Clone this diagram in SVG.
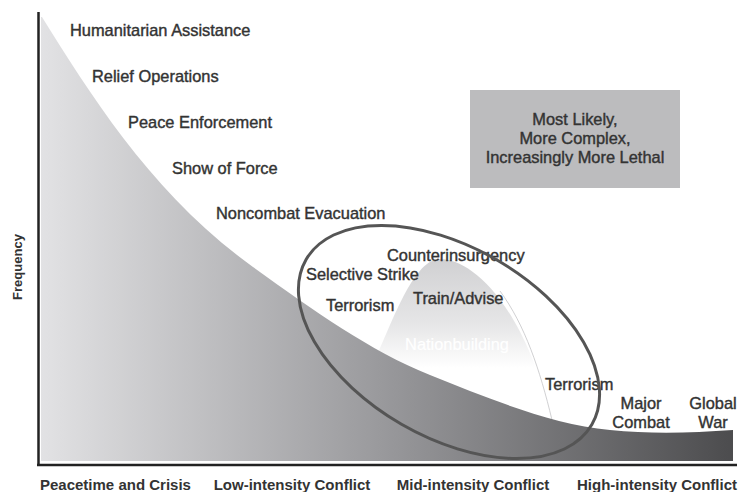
<svg xmlns="http://www.w3.org/2000/svg" width="742" height="492" viewBox="0 0 742 492">
<defs>
<linearGradient id="gMain" x1="41" y1="0" x2="733" y2="0" gradientUnits="userSpaceOnUse">
<stop offset="0" stop-color="#e2e2e4"/>
<stop offset="0.5" stop-color="#98989b"/>
<stop offset="1" stop-color="#4c4c4e"/>
</linearGradient>
<linearGradient id="gArch" x1="0" y1="258" x2="0" y2="368" gradientUnits="userSpaceOnUse">
<stop offset="0" stop-color="#d0d0d2"/>
<stop offset="0.6" stop-color="#e6e6e7"/>
<stop offset="1" stop-color="#ffffff"/>
</linearGradient>
</defs>
<style>
.t{font-family:"Liberation Sans",Arial,sans-serif;font-size:16.4px;fill:#333;stroke:#333;stroke-width:0.4}
.c{text-anchor:middle}
.ax{font-family:"Liberation Sans",Arial,sans-serif;font-size:15px;font-weight:bold;fill:#333}
.axis{stroke:#222;stroke-width:2.5;fill:none}
</style>
<rect width="742" height="492" fill="#fff"/>
<g id="arch">
<path d="M370,400 L378,353 C395,315 415,259 440,259 C470,259 522,300 552,420 L560,445 L370,445 Z" fill="url(#gArch)"/>
<path d="M500,291 C525,325 540,370 552,420" fill="none" stroke="#c4c4c6" stroke-width="0.8"/>
<text x="457" y="350" class="t c" style="fill:#fff;stroke:#fff;stroke-width:0.2">Nationbuilding</text>
</g>
<g id="frequency-area">
<path d="M42,17 C92,97 153,195 253,267 C313,310 370,351 430,375 C490,399 550,424 610,430 C650,434 690,433 733,430 L733,461 L41,461 L41,17 Z" fill="url(#gMain)"/>
</g>
<g id="axes">
<line x1="38.5" y1="12" x2="38.5" y2="466" class="axis"/>
<line x1="37" y1="465" x2="737" y2="465" class="axis"/>
<text transform="translate(22,267) rotate(-90)" class="ax c" style="font-size:13px">Frequency</text>
<text x="40" y="490" class="ax">Peacetime and Crisis</text>
<text x="292" y="490" class="ax c">Low-intensity Conflict</text>
<text x="473" y="490" class="ax c">Mid-intensity Conflict</text>
<text x="657" y="490" class="ax c">High-intensity Conflict</text>
</g>
<g id="labels">
<text x="70" y="36" class="t">Humanitarian Assistance</text>
<text x="92" y="82" class="t">Relief Operations</text>
<text x="128" y="128" class="t">Peace Enforcement</text>
<text x="172" y="174" class="t">Show of Force</text>
<text x="216" y="219" class="t">Noncombat Evacuation</text>
<text x="387" y="261" class="t">Counterinsurgency</text>
<text x="306" y="280" class="t">Selective Strike</text>
<text x="326" y="311" class="t">Terrorism</text>
<text x="413" y="304" class="t">Train/Advise</text>
<text x="545" y="390" class="t">Terrorism</text>
<text x="641" y="409" class="t c">Major</text>
<text x="641" y="428" class="t c">Combat</text>
<text x="713" y="409" class="t c">Global</text>
<text x="713" y="428" class="t c">War</text>
</g>
<g id="callout">
<rect x="470" y="90" width="210" height="98" fill="#bcbcbe"/>
<text x="575" y="125" class="t c">Most Likely,</text>
<text x="575" y="144" class="t c">More Complex,</text>
<text x="575" y="163" class="t c">Increasingly More Lethal</text>
</g>
<g id="ellipse">
<ellipse cx="449" cy="342" rx="165" ry="95" transform="rotate(30 449 342)" fill="none" stroke="#555" stroke-width="3"/>
</g>
</svg>
